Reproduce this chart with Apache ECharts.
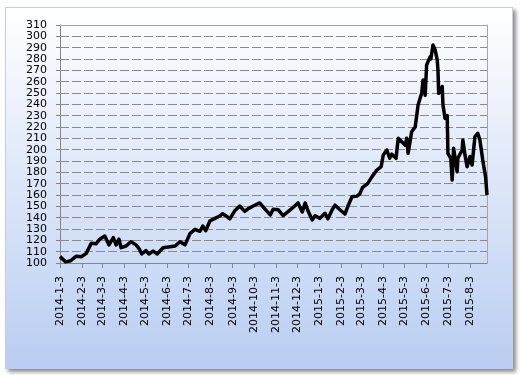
<!DOCTYPE html>
<html>
<head>
<meta charset="utf-8">
<script src="https://cdn.jsdelivr.net/npm/echarts@6/dist/echarts.min.js"></script>
<style>
html,body{margin:0;padding:0;background:#fff;}
#wrap{position:relative;width:520px;height:375px;}
#panel{position:absolute;left:5px;top:7px;width:506px;height:360px;background:#ffffff;
  border:1px solid #c9cfd8;box-shadow:3px 3px 4px rgba(0,0,0,0.45);}
#c{position:absolute;left:0;top:0;width:520px;height:375px;}
</style>
</head>
<body>
<div id="wrap"><div id="panel"></div><div id="c"></div></div>
<script>
const dates = [
'2014-01-03','2014-01-11','2014-01-18','2014-01-26','2014-02-02','2014-02-09','2014-02-16','2014-02-23','2014-02-28',
'2014-03-07','2014-03-13','2014-03-19','2014-03-23','2014-03-27','2014-03-30','2014-04-06','2014-04-13','2014-04-20',
'2014-04-24','2014-04-28','2014-05-04','2014-05-08','2014-05-14','2014-05-20','2014-05-28','2014-06-07','2014-06-14',
'2014-06-21','2014-06-28','2014-07-05','2014-07-12','2014-07-19','2014-07-23','2014-07-27','2014-08-02','2014-08-09',
'2014-08-16','2014-08-20','2014-08-26','2014-08-30','2014-09-06','2014-09-13','2014-09-20','2014-09-25','2014-10-02',
'2014-10-11','2014-10-18','2014-10-26','2014-10-30','2014-11-06','2014-11-13','2014-11-20','2014-11-27','2014-12-04',
'2014-12-10','2014-12-14','2014-12-18','2014-12-24','2014-12-28','2015-01-04','2015-01-11','2015-01-15','2015-01-21',
'2015-01-25','2015-02-01','2015-02-08','2015-02-12','2015-02-18','2015-02-25','2015-03-01','2015-03-05','2015-03-12',
'2015-03-18','2015-03-25','2015-03-31','2015-04-03','2015-04-08','2015-04-12','2015-04-15','2015-04-21','2015-04-24',
'2015-04-29','2015-05-04','2015-05-06','2015-05-08','2015-05-13','2015-05-18','2015-05-22','2015-05-27','2015-05-29',
'2015-06-01','2015-06-03','2015-06-08','2015-06-09','2015-06-12','2015-06-15','2015-06-18','2015-06-19','2015-06-20',
'2015-06-25','2015-06-26','2015-06-29','2015-07-02','2015-07-03','2015-07-07','2015-07-09','2015-07-11','2015-07-16',
'2015-07-17','2015-07-23','2015-07-24','2015-07-27','2015-07-30','2015-08-03','2015-08-06','2015-08-10','2015-08-14',
'2015-08-17','2015-08-21','2015-08-25','2015-08-27'
];
const values = [
105.6,101,102,106,105.5,108.5,117.4,117,121,
123.8,116,122.4,116,121,113.5,115,118.8,116,
113,108,111,108,110.5,108,113.5,114.4,115,
118.8,116,126,129.7,128,132.6,128.5,137,139.4,
141.5,143.5,141,139,146,150.3,145.6,148,150.3,
153,148,142.4,147.5,147,141.8,145.3,149,153,
145,153,146,138,141.6,139.4,143.8,139,146.8,
151,147,143.2,149.8,158.5,159,161,166.8,170,
176,182,185,195.3,199.7,192.4,196,192.4,210,
207,204,210,196.8,215.9,220.3,239.4,249.7,261.5,
248,274.7,282,280,292.4,288,279,270,249.7,
255.6,239.4,227.6,230,196.8,192.4,173.2,201.2,180.6,
192.4,199.7,208.5,195.4,185,194,186.5,211.5,214.4,
208.5,190.9,176,160
];
const xStart = '2014-01-03';
const xEnd = '2015-08-27';
const labelDay = 3;          // tick labels fall on the 3rd of each month
const yMin = 100, yMax = 310, yStep = 10;

// Build one category per calendar day; days without a sample are null (line connects across them)
function dayNum(s){ const p = s.split('-').map(Number); return Date.UTC(p[0], p[1]-1, p[2]) / 86400000; }
function fmtDay(n){ const d = new Date(n * 86400000); return d.getUTCFullYear() + '-' + (d.getUTCMonth()+1) + '-' + d.getUTCDate(); }
const d0 = dayNum(xStart), d1 = dayNum(xEnd);
const categories = [];
for (let n = d0; n <= d1; n++) categories.push(fmtDay(n));
const lookup = {};
dates.forEach((d,i)=>{ lookup[fmtDay(dayNum(d))] = values[i]; });
const seriesData = categories.map(c => (c in lookup ? lookup[c] : null));
function isLabelDay(idx, val){ return Number(String(val).split('-')[2]) === labelDay; }

// background panel: vertical fade white -> light blue, drawn as solid bands
const bands = [];
const topC = [255,255,255], botC = [185,205,242];
const nB = 60, pTop = 8, pH = 360, bH = pH / nB;
for (let i = 0; i < nB; i++) {
  const t = (i + 0.5) / nB;
  const c = topC.map((a,k)=>Math.round(a + (botC[k]-a)*t));
  bands.push({
    type: 'rect', z: -10,
    left: 6, top: Math.floor(pTop + i*bH),
    shape: {width: 506, height: Math.ceil(bH) + 1},
    style: {fill: 'rgb(' + c.join(',') + ')'}
  });
}

const chart = echarts.init(document.getElementById('c'));
const font = 'DejaVu Sans';
const border = '#a6a6a6';
chart.setOption({
  animation: false,
  graphic: {elements: bands},
  grid: {left: 60, right: 33, top: 25, bottom: 112, show: false},
  xAxis: [{
    type: 'category',
    data: categories,
    boundaryGap: false,
    axisLine: {lineStyle: {color: '#868686', width: 1}},
    axisTick: {show: true, length: 5, interval: isLabelDay, lineStyle: {color: '#868686'}},
    splitLine: {show: false},
    axisLabel: {
      interval: isLabelDay,
      rotate: 90, margin: 13,
      fontFamily: font, fontSize: 11, color: '#000'
    }
  }, {
    type: 'category', position: 'top', data: categories, boundaryGap: false,
    axisLine: {show: true, lineStyle: {color: border}}, axisTick: {show: false},
    axisLabel: {show: false}, splitLine: {show: false}
  }],
  yAxis: [{
    type: 'value',
    min: yMin, max: yMax, interval: yStep,
    axisLine: {show: true, lineStyle: {color: '#868686', width: 1}},
    axisTick: {show: true, length: 4, lineStyle: {color: '#868686'}},
    splitLine: {show: true, lineStyle: {color: '#8a8a8a', type: [9,3], width: 1}},
    axisLabel: {fontFamily: font, fontSize: 11, color: '#000', margin: 13, showMinLabel: true, showMaxLabel: true}
  }, {
    type: 'value', position: 'right', min: yMin, max: yMax, interval: yStep,
    axisLine: {show: true, lineStyle: {color: border}}, axisTick: {show: false},
    axisLabel: {show: false}, splitLine: {show: false}
  }],
  series: [{
    type: 'line',
    data: seriesData,
    connectNulls: true,
    showSymbol: false,
    symbol: 'none',
    lineStyle: {color: '#000', width: 3.5, join: 'round'},
    z: 5
  }]
});
</script>
</body>
</html>
